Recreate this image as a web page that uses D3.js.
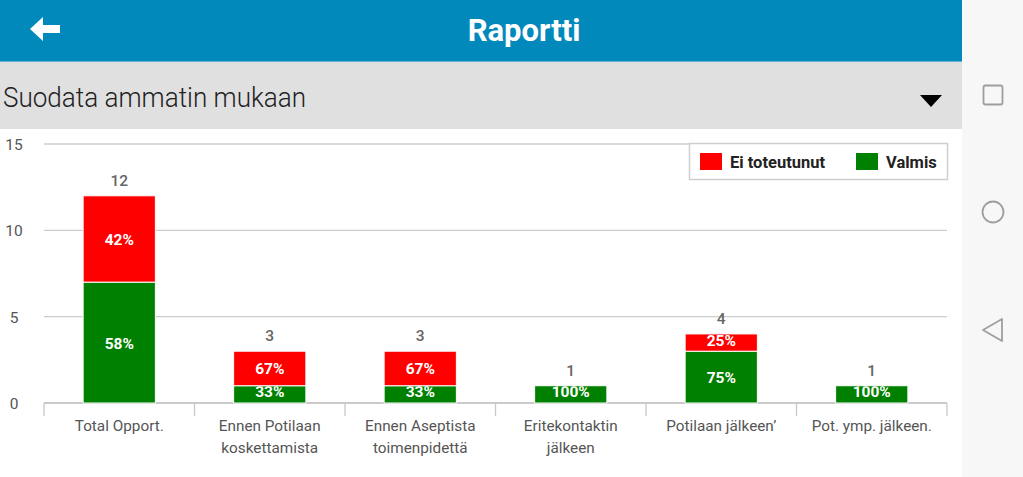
<!DOCTYPE html>
<html><head><meta charset="utf-8">
<script src="https://cdn.jsdelivr.net/npm/d3@7"></script>
<style>html,body{margin:0;padding:0;background:#fff;overflow:hidden}svg{display:block}</style>
</head><body>
<svg id="c" width="1023" height="477"></svg>
<script>
const categories = [["Total Opport."],["Ennen Potilaan","koskettamista"],["Ennen Aseptista","toimenpidettä"],["Eritekontaktin","jälkeen"],["Potilaan jälkeen’"],["Pot. ymp. jälkeen."]];
const valmis = [7,1,1,1,3,1];
const eiToteutunut = [5,2,2,0,1,0];
const yTicks = [0,5,10,15];
const seriesNames = ["Ei toteutunut","Valmis"];
const colors = {"Valmis":"#008000","Ei toteutunut":"#ff0000"};

const svg = d3.select("#c");
// header
svg.append("rect").attr("x",0).attr("y",0).attr("width",962).attr("height",62).attr("fill","#0289bb");
svg.append("rect").attr("x",0).attr("y",61).attr("width",962).attr("height",1).attr("fill","#5fb3d6");
svg.append("path").attr("d","M30,29 L43,17 L43,25 L60,25 L60,33 L43,33 L43,41 Z").attr("fill","#fff");
svg.append("text").attr("x",524).attr("y",41).attr("text-anchor","middle").attr("fill","#fff")
  .attr("font-family","Roboto").attr("font-weight","bold").attr("font-size",31).text("Raportti");
// filter bar
svg.append("rect").attr("x",0).attr("y",62).attr("width",962).attr("height",67).attr("fill","#e0e0e0");
svg.append("text").attr("x",3).attr("y",107).attr("fill","#222").attr("font-family","Roboto").attr("font-weight",300)
  .attr("font-size",27).attr("textLength",303).attr("lengthAdjust","spacingAndGlyphs").text("Suodata ammatin mukaan");
svg.append("path").attr("d","M920,95 L942,95 L931,107 Z").attr("fill","#000");
// right nav panel
svg.append("rect").attr("x",962).attr("y",0).attr("width",61).attr("height",477).attr("fill","#f7f7f7");
svg.append("rect").attr("x",983.5).attr("y",85.5).attr("width",19).attr("height",19).attr("rx",2).attr("fill","none").attr("stroke","#9e9e9e").attr("stroke-width",1.8);
svg.append("circle").attr("cx",993).attr("cy",212).attr("r",10.5).attr("fill","none").attr("stroke","#9e9e9e").attr("stroke-width",1.8);
svg.append("path").attr("d","M983,330 L1002,319 L1002,341 Z").attr("fill","none").attr("stroke","#9e9e9e").attr("stroke-width",1.8).attr("stroke-linejoin","round");

// chart
const x = d3.scaleBand().domain(d3.range(categories.length)).range([44,947]).paddingInner(0).paddingOuter(0);
const y = d3.scaleLinear().domain([0,15]).range([403,144]);
const g = svg.append("g");
g.selectAll("line.grid").data(yTicks).join("line").attr("class","grid")
  .attr("x1",44).attr("x2",947).attr("y1",d=>y(d)).attr("y2",d=>y(d))
  .attr("stroke",d=>d===0?"#b8b8b8":"#cccccc").attr("stroke-width",1.3);
g.selectAll("text.yl").data(yTicks).join("text").attr("class","yl")
  .attr("x",14).attr("y",d=>y(d)+6).attr("text-anchor","middle").attr("fill","#555")
  .attr("font-family","Roboto").attr("font-size",15.5).text(d=>d);
// x ticks at band boundaries
const bounds = d3.range(categories.length+1).map(i=>i<categories.length?x(i):x(categories.length-1)+x.bandwidth());
g.selectAll("line.xt").data(bounds).join("line").attr("class","xt")
  .attr("x1",d=>d).attr("x2",d=>d).attr("y1",403).attr("y2",416).attr("stroke","#c8c8c8").attr("stroke-width",1.3);
g.selectAll("text.xl").data(categories).join("text").attr("class","xl")
  .attr("x",(d,i)=>x(i)+x.bandwidth()/2).attr("y",431).attr("text-anchor","middle").attr("fill","#555")
  .attr("font-family","Roboto").attr("font-size",15.3)
  .each(function(d){ const t=d3.select(this); d.forEach((ln,k)=>t.append("tspan").attr("x",t.attr("x")).attr("dy",k?22:0).text(ln)); });

const stacked = d3.stack().keys(["Valmis","Ei toteutunut"])(categories.map((c,i)=>({"Valmis":valmis[i],"Ei toteutunut":eiToteutunut[i],total:valmis[i]+eiToteutunut[i]})));
const bw = x.bandwidth()*0.48;
const defs = svg.append("defs");
let clipId = 0;
stacked.forEach(s=>{
  const layer = g.append("g");
  s.forEach((d,i)=>{
    const v = d[1]-d[0];
    if(v<=0) return;
    const cx = x(i)+x.bandwidth()/2;
    const ry = y(d[1]), rh = y(d[0])-y(d[1]);
    layer.append("rect").attr("x",cx-bw/2).attr("y",ry).attr("width",bw).attr("height",rh)
      .attr("fill",colors[s.key]).attr("stroke","#fff").attr("stroke-width",1);
    const id = "clip"+(clipId++);
    defs.append("clipPath").attr("id",id).append("rect").attr("x",cx-bw/2).attr("y",ry+0.5).attr("width",bw).attr("height",rh-0.5);
    const pct = Math.round(v/d.data.total*100)+"%";
    const small = rh < 20;
    layer.append("text").attr("clip-path","url(#"+id+")").attr("x",cx).attr("y",(y(d[0])+y(d[1]))/2+(small?3:6)).attr("text-anchor","middle")
      .attr("fill","#fff").attr("font-family","Roboto").attr("font-weight","bold").attr("font-size",15.5).text(pct);
  });
});
// totals
g.selectAll("text.tot").data(valmis).join("text").attr("class","tot")
  .attr("x",(d,i)=>x(i)+x.bandwidth()/2).attr("y",(d,i)=>y(d+eiToteutunut[i])-10).attr("text-anchor","middle")
  .attr("fill","#666").attr("font-family","Roboto").attr("font-weight","500").attr("font-size",15.5).text((d,i)=>d+eiToteutunut[i]);

// legend
const lg = svg.append("g");
lg.append("rect").attr("x",689.5).attr("y",143.5).attr("width",258).attr("height",36).attr("fill","#fff").attr("stroke","#cfcfcf").attr("stroke-width",1.5);
const lx = [700,856];
seriesNames.forEach((n,i)=>{
  lg.append("rect").attr("x",lx[i]).attr("y",153).attr("width",22).attr("height",17).attr("fill",colors[n]);
  lg.append("text").attr("x",lx[i]+30).attr("y",168).attr("fill","#222").attr("font-family","Roboto").attr("font-weight","bold").attr("font-size",16.5).text(n);
});
</script>
</body></html>
